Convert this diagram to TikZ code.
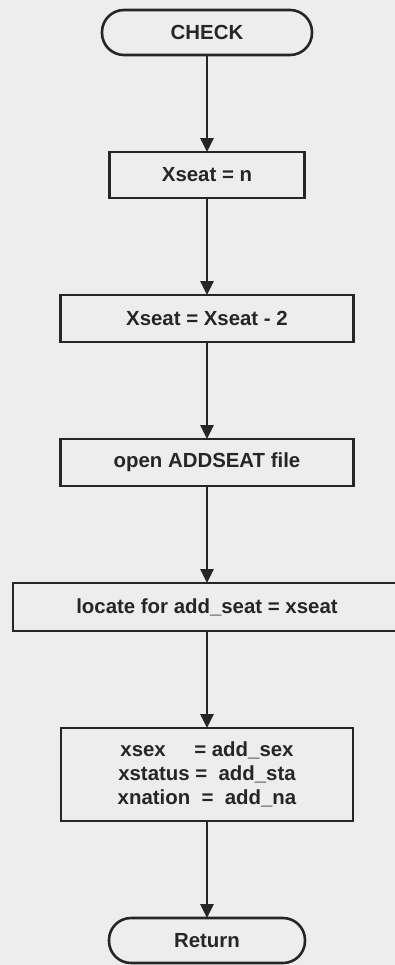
\documentclass[tikz,border=0pt]{standalone}
\usepackage{fontspec}
\setmainfont{Liberation Sans}
\usepackage{xcolor}
\definecolor{cInk}{HTML}{262626}
\definecolor{cPaper}{HTML}{EDEDED}
\usetikzlibrary{positioning,arrows.meta}
\newcommand{\flowfont}{\fontsize{10.2}{12}\selectfont\bfseries}
\tikzset{
  node-term/.style={draw=cInk,line width=1.3pt,rounded corners=11pt,outer sep=0pt,
    minimum height=22.5pt,align=center,font=\flowfont},
  node-box/.style={draw=cInk,line width=1.3pt,outer sep=0pt,
    minimum height=23.5pt,align=center,font=\flowfont},
  arrow/.style={-{Triangle[length=7pt,width=6.5pt]},line width=1.3pt,draw=cInk},
}

\begin{document}
\begin{tikzpicture}[node distance=48.5pt,text=cInk]
  \fill[cPaper] (-103.5pt,16.25pt) rectangle (94pt,-466.25pt);
  \useasboundingbox (-103.5pt,16.25pt) rectangle (94pt,-466.25pt);
  \node[node-term,minimum width=105pt] (check) {CHECK};
  \node[node-box,minimum width=97.5pt,minimum height=23pt,below=of check] (setn) {Xseat = n};
  \node[node-box,minimum width=146.5pt,below=of setn] (dec) {Xseat = Xseat - 2};
  \node[node-box,minimum width=146.5pt,below=of dec] (open) {open ADDSEAT file};
  \node[node-box,minimum width=194pt,minimum height=24pt,below=of open] (loc) {locate for add\_seat = xseat};
  \node[node-box,minimum width=146pt,minimum height=46.5pt,below=of loc] (copy)
    {xsex\hspace{1.4em}= add\_sex\\ xstatus = \ add\_sta\\ xnation \ = \ add\_na};
  \node[node-term,minimum width=98pt,below=of copy] (ret) {Return};
  \draw[arrow] (check) -- (setn);
  \draw[arrow] (setn) -- (dec);
  \draw[arrow] (dec) -- (open);
  \draw[arrow] (open) -- (loc);
  \draw[arrow] (loc) -- (copy);
  \draw[arrow] (copy) -- (ret);
\end{tikzpicture}
\end{document}
